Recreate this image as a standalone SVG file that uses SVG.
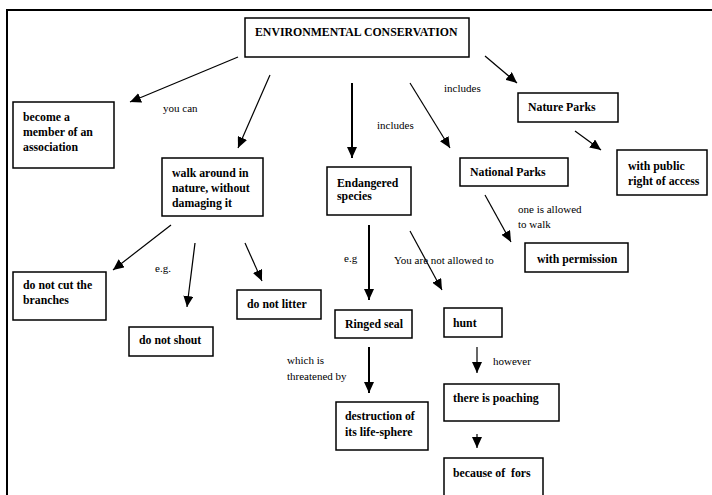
<svg xmlns="http://www.w3.org/2000/svg" width="712" height="495" viewBox="0 0 712 495">
<defs>
<marker id="ah" markerUnits="userSpaceOnUse" markerWidth="12" markerHeight="10" refX="11" refY="5" orient="auto">
<path d="M0,0 L11,5 L0,10 z" fill="#000"/>
</marker>
<style>
.box{fill:#fff;stroke:#000;stroke-width:1.5}
.t{font-family:"Liberation Serif","Times New Roman",serif;font-size:11.8px;font-weight:bold;fill:#000}
.l{font-family:"Liberation Serif","Times New Roman",serif;font-size:11px;fill:#000}
.c{stroke:#000;stroke-width:1.2;fill:none;marker-end:url(#ah)}
.cv{stroke:#000;stroke-width:2;fill:none;marker-end:url(#ah)}
</style>
</defs>
<rect width="712" height="495" fill="#fff"/>
<path d="M7,495 L7,10 L712,10" fill="none" stroke="#000" stroke-width="2"/>

<g id="connectors">
<line class="c" x1="238" y1="57" x2="130" y2="102"/>
<line class="c" x1="270" y1="75" x2="238" y2="148"/>
<line class="cv" x1="352" y1="83" x2="352" y2="158"/>
<line class="c" x1="410" y1="83" x2="450" y2="148"/>
<line class="c" x1="485" y1="56" x2="517" y2="83"/>
<line class="c" x1="575" y1="131" x2="601" y2="150"/>
<line class="c" x1="171" y1="225" x2="113" y2="270"/>
<line class="c" x1="195" y1="243" x2="187" y2="307"/>
<line class="c" x1="245" y1="243" x2="262" y2="281"/>
<line class="cv" x1="369" y1="225" x2="369" y2="300"/>
<line class="c" x1="410" y1="231" x2="442" y2="290"/>
<line class="c" x1="485" y1="195" x2="511" y2="242"/>
<line class="cv" x1="369" y1="347" x2="369" y2="393"/>
<line class="c" x1="477" y1="347" x2="477" y2="373"/>
<line class="c" x1="477" y1="434" x2="477" y2="448"/>
</g>

<g id="labels">
<text class="l" x="163" y="112">you can</text>
<text class="l" x="444" y="92">includes</text>
<text class="l" x="377" y="129">includes</text>
<text class="l" x="518" y="213">one is allowed</text>
<text class="l" x="518" y="228">to walk</text>
<text class="l" x="155" y="272">e.g.</text>
<text class="l" x="344" y="262">e.g</text>
<text class="l" x="394" y="264">You are not allowed to</text>
<text class="l" x="287" y="364">which is</text>
<text class="l" x="287" y="380">threatened by</text>
<text class="l" x="493" y="365">however</text>
</g>

<g id="n-title">
<rect class="box" x="245" y="18" width="224" height="39"/>
<text class="t" x="255" y="36">ENVIRONMENTAL CONSERVATION</text>
</g>
<g id="n-member">
<rect class="box" x="13" y="102" width="101" height="66"/>
<text class="t" x="23" y="121">become a</text>
<text class="t" x="23" y="136">member of an</text>
<text class="t" x="23" y="151">association</text>
</g>
<g id="n-walk">
<rect class="box" x="162" y="158" width="101" height="58"/>
<text class="t" x="172" y="177">walk around in</text>
<text class="t" x="172" y="192">nature, without</text>
<text class="t" x="172" y="207">damaging it</text>
</g>
<g id="n-endangered">
<rect class="box" x="327" y="167" width="84" height="48"/>
<text class="t" x="337" y="187">Endangered</text>
<text class="t" x="337" y="200">species</text>
</g>
<g id="n-national">
<rect class="box" x="460" y="158" width="108" height="28"/>
<text class="t" x="470" y="176">National Parks</text>
</g>
<g id="n-nature">
<rect class="box" x="518" y="93" width="100" height="29"/>
<text class="t" x="528" y="111">Nature Parks</text>
</g>
<g id="n-public">
<rect class="box" x="617" y="150" width="90" height="45"/>
<text class="t" x="628" y="170">with public</text>
<text class="t" x="628" y="185">right of access</text>
</g>
<g id="n-permission">
<rect class="box" x="525" y="243" width="103" height="29"/>
<text class="t" x="537" y="263">with permission</text>
</g>
<g id="n-cut">
<rect class="box" x="13" y="272" width="93" height="48"/>
<text class="t" x="23" y="289">do not cut the</text>
<text class="t" x="23" y="304">branches</text>
</g>
<g id="n-litter">
<rect class="box" x="237" y="290" width="84" height="29"/>
<text class="t" x="247" y="308">do not litter</text>
</g>
<g id="n-shout">
<rect class="box" x="129" y="327" width="84" height="29"/>
<text class="t" x="139" y="344">do not shout</text>
</g>
<g id="n-ringed">
<rect class="box" x="335" y="310" width="77" height="28"/>
<text class="t" x="345" y="328">Ringed seal</text>
</g>
<g id="n-hunt">
<rect class="box" x="444" y="308" width="58" height="29"/>
<text class="t" x="453" y="327">hunt</text>
</g>
<g id="n-destruction">
<rect class="box" x="336" y="402" width="92" height="48"/>
<text class="t" x="345" y="420">destruction of</text>
<text class="t" x="345" y="436">its life-sphere</text>
</g>
<g id="n-poaching">
<rect class="box" x="444" y="384" width="115" height="37"/>
<text class="t" x="453" y="402">there is poaching</text>
</g>
<g id="n-fors">
<rect class="box" x="444" y="458" width="99" height="45"/>
<text class="t" x="453" y="477" xml:space="preserve">because of  fors</text>
</g>
</svg>
